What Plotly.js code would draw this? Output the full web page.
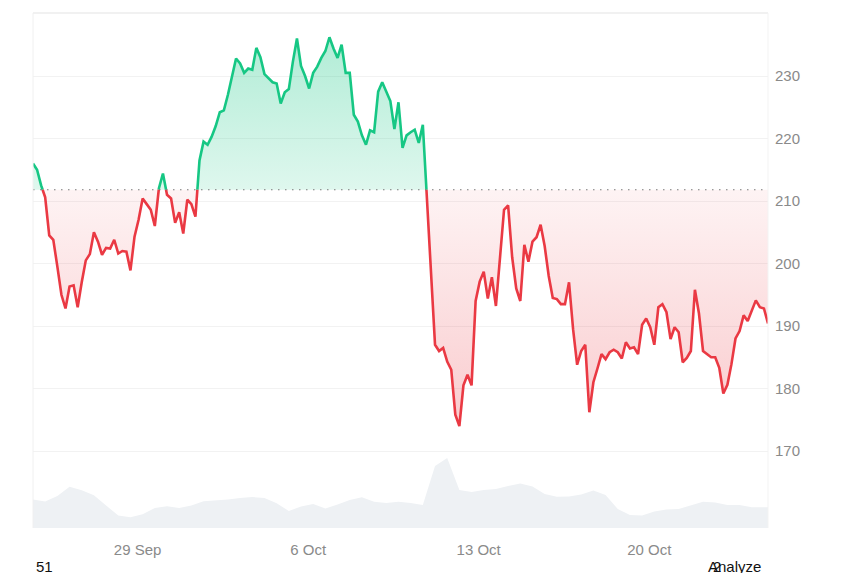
<!DOCTYPE html>
<html>
<head>
<meta charset="utf-8">
<script src="https://cdn.plot.ly/plotly-3.0.1.min.js"></script>
<style>
  html, body { margin: 0; padding: 0; background: #ffffff; }
  #chart { width: 860px; height: 573px; }
</style>
</head>
<body>
<div id="chart"></div>
<script>
// ---- data ----
const startTime = '2025-09-24T17:00:00Z';   // first sample
const stepHours = 4;                          // sample spacing
const baseline = 211.8;                       // reference (open) price

const prices = [
  216.0, 215.0, 212.5, 210.6, 204.5, 203.8, 199.5, 195.0, 192.8, 196.3,
  196.5, 193.0, 197.0, 200.5, 201.5, 205.0, 203.5, 201.4, 202.5, 202.4,
  203.8, 201.6, 202.0, 201.9, 198.9, 204.3, 207.0, 210.4, 209.5, 208.6,
  206.0, 212.0, 214.4, 211.0, 210.4, 206.5, 208.2, 204.8, 210.2, 209.5,
  207.5, 216.5, 219.5, 219.0, 220.3, 222.0, 224.2, 224.5, 227.0, 230.0,
  232.8, 232.0, 230.5, 231.2, 231.0, 234.5, 233.0, 230.3, 229.7, 229.0,
  228.8, 225.6, 227.4, 227.9, 232.3, 236.0, 231.6, 230.0, 228.0, 230.5,
  231.5, 232.9, 234.0, 236.2, 234.4, 232.9, 235.0, 230.5, 230.5, 223.8,
  222.7, 220.5, 219.0, 221.3, 221.0, 227.5, 229.0, 227.5, 226.0, 221.5,
  225.8, 218.5, 220.5, 221.0, 221.4, 219.3, 222.2, 210.5, 200.0, 187.0,
  186.0, 186.5, 184.3, 183.0, 175.8, 174.0, 180.5, 182.2, 180.5, 194.0,
  197.1, 198.7, 194.4, 197.8, 193.2, 201.1, 208.6, 209.3, 201.0, 196.0,
  194.0, 203.0, 200.3, 203.5, 204.2, 206.2, 202.8, 198.0, 194.5, 194.3,
  193.5, 193.5, 197.0, 189.5, 183.8, 186.0, 187.0, 176.2, 181.0, 183.2,
  185.5, 184.7, 185.8, 186.2, 185.8, 184.8, 187.4, 186.4, 186.6, 185.5,
  190.2, 191.2, 189.8, 187.0, 193.0, 193.5, 192.2, 187.9, 189.8, 189.0,
  184.2, 184.9, 186.0, 195.8, 192.0, 186.0, 185.5, 185.0, 185.0, 183.3,
  179.2, 180.6, 183.9, 188.0, 189.2, 191.7, 190.8, 192.6, 194.1, 193.0,
  192.8, 190.4
];

// volume, sampled every 3rd price sample plus the last one (arbitrary units)
const volumes = [
  2.85, 2.65, 3.20, 4.12, 3.77, 3.27, 2.25, 1.25, 1.07, 1.37,
  2.00, 2.18, 2.00, 2.25, 2.67, 2.73, 2.85, 3.00, 3.10, 3.00,
  2.47, 1.70, 2.15, 2.40, 1.95, 2.35, 2.80, 3.07, 2.62, 2.50,
  2.63, 2.50, 2.30, 6.20, 7.00, 3.80, 3.60, 3.80, 3.90, 4.20,
  4.45, 4.15, 3.40, 3.13, 3.15, 3.35, 3.75, 3.30, 1.90, 1.30,
  1.25, 1.65, 1.84, 1.90, 2.30, 2.63, 2.55, 2.30, 2.30, 2.07,
  2.07, 2.07
];

const tickDates = ['2025-09-29', '2025-10-06', '2025-10-13', '2025-10-20'];
const tickLabels = ['29 Sep', '6 Oct', '13 Oct', '20 Oct'];
const yTicks = [170, 180, 190, 200, 210, 220, 230];

// ---- build series ----
const t0 = Date.parse(startTime);
const fmt = ms => new Date(ms).toISOString().slice(0, 19).replace('T', ' ');
const timesMs = prices.map((_, i) => t0 + i * stepHours * 3600000);
const times = timesMs.map(fmt);

const volTimes = [];
times.forEach((t, i) => { if (i % 3 === 0 || i === times.length - 1) volTimes.push(t); });

// densify with baseline crossings so the two colours meet exactly
const dT = [], dP = [];
for (let i = 0; i < prices.length; i++) {
  if (i > 0) {
    const a = prices[i - 1] - baseline, b = prices[i] - baseline;
    if (a * b < 0) {
      const f = a / (a - b);
      dT.push(timesMs[i - 1] + f * (timesMs[i] - timesMs[i - 1]));
      dP.push(baseline);
    }
  }
  dT.push(timesMs[i]); dP.push(prices[i]);
}
const dX = dT.map(fmt);
const baseArr = dX.map(() => baseline);
const upFill = dP.map(p => Math.max(p, baseline));
const dnFill = dP.map(p => Math.min(p, baseline));
const upLine = dP.map(p => (p >= baseline ? p : null));
const dnLine = dP.map(p => (p <= baseline ? p : null));

const GREEN = '#16c784', RED = '#ea3943';

const traces = [
  { x: volTimes, y: volumes, yaxis: 'y2', type: 'scatter', mode: 'lines',
    fill: 'tozeroy', fillcolor: '#eef1f4', line: { width: 0, color: '#eef1f4' },
    hoverinfo: 'skip', showlegend: false },
  { x: dX, y: baseArr, type: 'scatter', mode: 'lines', line: { width: 0 },
    hoverinfo: 'skip', showlegend: false },
  { x: dX, y: upFill, type: 'scatter', mode: 'lines', line: { width: 0 },
    fill: 'tonexty',
    fillgradient: { type: 'vertical', start: baseline, stop: 237,
      colorscale: [[0, 'rgba(22,199,132,0.14)'], [1, 'rgba(22,199,132,0.34)']] },
    hoverinfo: 'skip', showlegend: false },
  { x: dX, y: baseArr, type: 'scatter', mode: 'lines', line: { width: 0 },
    hoverinfo: 'skip', showlegend: false },
  { x: dX, y: dnFill, type: 'scatter', mode: 'lines', line: { width: 0 },
    fill: 'tonexty',
    fillgradient: { type: 'vertical', start: 174, stop: baseline,
      colorscale: [[0, 'rgba(234,57,67,0.26)'], [1, 'rgba(234,57,67,0.06)']] },
    hoverinfo: 'skip', showlegend: false },
  { x: dX, y: upLine, type: 'scatter', mode: 'lines',
    line: { color: GREEN, width: 2.6 }, connectgaps: false, showlegend: false },
  { x: dX, y: dnLine, type: 'scatter', mode: 'lines',
    line: { color: RED, width: 2.6 }, connectgaps: false, showlegend: false }
];

const layout = {
  width: 860, height: 573,
  margin: { l: 33, r: 92, t: 13, b: 45 },
  paper_bgcolor: '#ffffff', plot_bgcolor: '#ffffff',
  font: { family: 'Liberation Sans, Arial, sans-serif', size: 15, color: '#8a8a8a' },
  showlegend: false,
  xaxis: {
    type: 'date',
    range: [times[0], times[times.length - 1]],
    tickvals: tickDates, ticktext: tickLabels,
    showgrid: false, zeroline: false, showline: false, ticks: '',
    tickfont: { size: 15, color: '#8a8a8a' },
    ticklabelstandoff: 11,
    fixedrange: true
  },
  yaxis: {
    side: 'right',
    range: [157.68, 240.08],
    tickvals: yTicks,
    showgrid: true, gridcolor: '#f2f2f2', gridwidth: 1,
    zeroline: false, showline: false, ticks: '',
    tickfont: { size: 15, color: '#8a8a8a' },
    ticklabelstandoff: 6,
    fixedrange: true
  },
  yaxis2: {
    overlaying: 'y', range: [0, 51.5], visible: false, fixedrange: true
  },
  shapes: [
    { type: 'line', xref: 'paper', yref: 'y', x0: 0, x1: 1, y0: baseline, y1: baseline,
      line: { color: '#7a7a7a', width: 1.2, dash: '1.5px,5.5px' } },
    { type: 'line', xref: 'paper', yref: 'paper', x0: 0, x1: 1, y0: 1, y1: 1,
      line: { color: '#e3e3e3', width: 1 } },
    { type: 'line', xref: 'paper', yref: 'paper', x0: 0, x1: 0, y0: 0, y1: 1,
      line: { color: '#f0f0f0', width: 1 } },
    { type: 'line', xref: 'paper', yref: 'paper', x0: 1, x1: 1, y0: 0, y1: 1,
      line: { color: '#f3f3f3', width: 1 } }
  ],
  annotations: [
    { text: '51', xref: 'paper', yref: 'paper', x: 0, y: -0.0745, xanchor: 'left', yanchor: 'middle',
      xshift: 1, showarrow: false, font: { size: 15, color: '#111111' } },
    { text: 'Analyze', xref: 'paper', yref: 'paper', x: 0.9932, y: -0.0745, xanchor: 'right', yanchor: 'middle',
      showarrow: false, font: { size: 15, color: '#111111' } },
    { text: '2', xref: 'paper', yref: 'paper', x: 0.9306, y: -0.0745, xanchor: 'center', yanchor: 'middle',
      showarrow: false, font: { size: 15, color: '#111111' } }
  ],
  hovermode: false
};

Plotly.newPlot('chart', traces, layout, { displayModeBar: false, staticPlot: true });
</script>
</body>
</html>
